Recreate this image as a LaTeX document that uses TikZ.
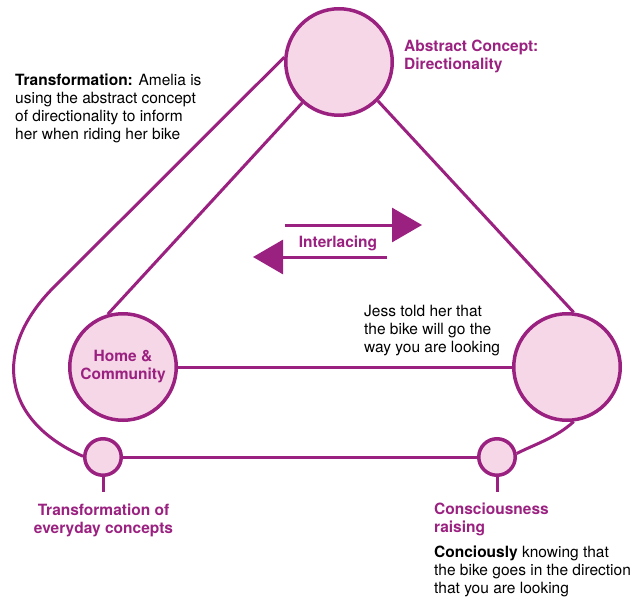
\documentclass[tikz,border=0pt]{standalone}
\usepackage{fontspec}
\setmainfont{TeX Gyre Heros}
\usetikzlibrary{arrows.meta}
\definecolor{plum}{RGB}{155,33,129}
\definecolor{pinkfill}{RGB}{246,215,231}
\begin{document}
\begin{tikzpicture}[x=1pt,y=-1pt,
  big/.style={circle,draw=plum,fill=pinkfill,line width=3.5pt,minimum size=106.5pt,inner sep=0pt},
  small/.style={circle,draw=plum,fill=pinkfill,line width=3.5pt,minimum size=36.5pt,inner sep=0pt},
  link/.style={draw=plum,line width=3pt},
  flow/.style={draw=plum,line width=3pt,-{Triangle[length=30pt,width=34pt]}},
  txt/.style={font=\fontsize{15.5}{18}\selectfont,align=left,inner sep=0pt,text=black},
  lab/.style={font=\fontsize{15.5}{18}\selectfont\bfseries,inner sep=0pt,text=plum}
]
\useasboundingbox (0,0) rectangle (642,599);

% circles
\node[big] (top) at (339,62) {};
\node[big,lab,align=center] (home) at (123,367) {Home \&\\Community};
\node[big] (right) at (567,367) {};
\node[small] (sl) at (103,457) {};
\node[small] (sr) at (497,457) {};

% connectors
\coordinate (bendA) at (54,287);
\draw[link] (top.175) -- (bendA) .. controls (-8,349) and (1,420) .. (sl.178);
\draw[link] (top.228) -- (home.106);
\draw[link] (top.315) -- (right.83);
\draw[link] (home.east) -- (right.west);
\draw[link] (sl.east) -- (sr.west);
\draw[link] (right.277) .. controls (556,438) and (533,445) .. (sr.10);
\coordinate (slStem) at (103,492);
\coordinate (srStem) at (497,492);
\draw[link] (sl.south) -- (slStem);
\draw[link] (sr.south) -- (srStem);

% interlacing arrows
\coordinate (a1s) at (285,225);
\coordinate (a1e) at (422,225);
\coordinate (a2s) at (387,257);
\coordinate (a2e) at (253,257);
\draw[flow] (a1s) -- (a1e);
\draw[flow] (a2s) -- (a2e);
\node[lab,anchor=base] (inter) at (338,247) {Interlacing};

% texts (anchor = baseline of the last line)
\node[txt,anchor=base west] (transtxt) at (15,139.7) {\textbf{Transformation:} Amelia is\\using the abstract concept\\of directionality to inform\\her when riding her bike};
\node[lab,align=left,anchor=base west] (abs) at (404,70) {Abstract Concept:\\Directionality};
\node[txt,anchor=base west] (jess) at (364,352.7) {Jess told her that\\the bike will go the\\way you are looking};
\node[lab,align=center,anchor=base] (tev) at (103.5,533) {Transformation of\\everyday concepts};
\node[lab,align=left,anchor=base west] (cons) at (434,532) {Consciousness\\raising};
\node[txt,anchor=base west] (conc) at (434,593) {\textbf{Conciously} knowing that\\the bike goes in the direction\\that you are looking};
\end{tikzpicture}
\end{document}
